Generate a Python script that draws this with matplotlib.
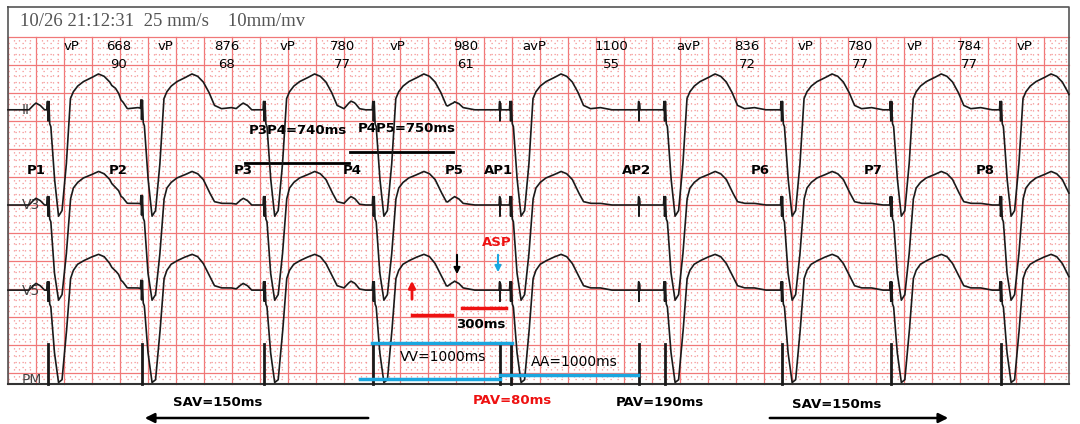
import numpy as np
import matplotlib
matplotlib.use("Agg")
import matplotlib.pyplot as plt

# ---------------- data ----------------
rr_labels = [668, 876, 780, 980, 1100, 836, 780, 784]   # ms, shown at top
hr_labels = [90, 68, 77, 61, 55, 72, 77, 77]
beat_marks = ["vP", "vP", "vP", "vP", "avP", "avP", "vP", "vP", "vP"]
first_v_s = 0.286                                         # first ventricular spike (s)
atrial_spikes_s = [3.514, 4.507]                           # AP1, AP2 (s)
p_wave_s = [0.20, 0.79, 1.68, 2.45, 3.19]                  # sinus P waves (s)
p_labels = ["P1", "P2", "P3", "P4", "P5", "AP1", "AP2", "P6", "P7", "P8"]
p_label_s = [0.20, 0.79, 1.68, 2.46, 3.19, 3.50, 4.49, 5.37, 6.18, 6.98]

# beat templates: time after V spike (s) and amplitude (mm)
tmpl_t = [-0.03, -0.008, -0.004, 0.0, 0.006, 0.012, 0.02, 0.045, 0.075, 0.10, 0.13,
          0.16, 0.18, 0.21, 0.25, 0.30, 0.36, 0.40, 0.44, 0.48, 0.52, 0.57, 0.64, 0.72]
II_v = [0, 0, 1.5, -2, 1.5, -2.5, -3, -12, -19, -18, -10, 2, 3.2, 4.2, 5, 5.6, 6.4,
        6.0, 5.0, 3.2, 0.8, 0.2, 0.4, 0]
V3_v = [0, 0, 1.5, -2, 1.5, -2.5, -3, -12, -17, -16, -9, 1, 3, 4, 4.8, 5.3, 6.0,
        5.6, 4.6, 2.5, 0.6, 0.3, 0.3, 0]
V5_v = [0, 0, 1.5, -2, 1.5, -2.5, -3, -11, -16.5, -16, -8, 2, 3.5, 4.6, 5.2, 5.8, 6.4,
        6.0, 4.8, 2.8, 0.8, 0.4, 0.4, 0]
baselines_mm = {"II": 47.0, "V3": 30.0, "V5": 14.8}
p_t = [-0.05, -0.02, 0.0, 0.03, 0.06]
p_v = [0, 0.8, 1.2, 0.8, 0]
spike_t = [-0.006, -0.002, 0.0, 0.003, 0.007]
spike_v = [0, 1.5, -2.0, 1.2, 0]
pm_spike_mm = 7.2

# ---------------- helpers ----------------
PX_PER_S, PX_PER_MM = 140.0, 5.6
def X(px): return (px - 8) / PX_PER_S
def Y(py): return (373 - py) / PX_PER_MM

fig = plt.figure(figsize=(10.8, 4.24), dpi=100)
ax = fig.add_axes([0, 0, 1, 1])
ax.set_xlim(X(0), X(1080)); ax.set_ylim(Y(424), Y(0)); ax.axis("off")

x0, x1, y0, y1 = X(8), X(1069), Y(384), Y(37)
# grid
for v in np.arange(0, x1, 0.04):
    major = abs(v / 0.2 - round(v / 0.2)) < 1e-6
    if major:
        ax.plot([v, v], [y0, y1], color="#f07878", lw=0.9, zorder=1)
    else:
        ax.plot([v, v], [y0, y1], color="#f49090", lw=0.9, ls=(0, (1, 4.6)), zorder=1)
for h in np.arange(-1, y1, 1.0):
    if h % 5 == 0:
        ax.plot([x0, x1], [h, h], color="#f07878", lw=0.9, zorder=1)
    else:
        ax.plot([x0, x1], [h, h], color="#f49090", lw=0.9, ls=(0, (1, 4.6)), zorder=1)
# frame
ax.plot([x0, x1, x1, x0, x0], [Y(7), Y(7), y0, y0, Y(7)], color="#555555", lw=1.2, zorder=3)
ax.plot([x0, x1], [y0, y0], color="#333333", lw=1.5, zorder=3)
ax.text(X(20), Y(22), "10/26 21:12:31  25 mm/s    10mm/mv", family="Liberation Serif",
        fontsize=13.5, color="#555555", va="center")

# beat times
v_times = np.concatenate([[first_v_s], first_v_s + np.cumsum(rr_labels) / 1000.0])
t = np.arange(0, x1, 0.001)
for lead, tv in (("II", II_v), ("V3", V3_v), ("V5", V5_v)):
    sig = np.full_like(t, baselines_mm[lead])
    for vt in v_times:
        sig += np.interp(t - vt, tmpl_t, tv, left=0, right=0)
    for pt in p_wave_s:
        sig += np.interp(t - pt, p_t, p_v, left=0, right=0)
    for at in atrial_spikes_s:
        sig += np.interp(t - at, spike_t, spike_v, left=0, right=0)
    ax.plot(t, sig, color="#1a1a1a", lw=1.2, zorder=4)
# PM row
for st in list(v_times) + atrial_spikes_s:
    ax.plot([st, st], [y0, y0 + pm_spike_mm], color="#1a1a1a", lw=2, zorder=4)

# top labels
mid = (v_times[:-1] + v_times[1:]) / 2
for vt, m in zip(v_times, beat_marks):
    ax.text(vt + 0.17, Y(47), m, ha="center", va="center", fontsize=9.5)
for m, rr, hr in zip(mid, rr_labels, hr_labels):
    ax.text(m + 0.17, Y(47), str(rr), ha="center", va="center", fontsize=9.5)
    ax.text(m + 0.17, Y(65), str(hr), ha="center", va="center", fontsize=9.5)

for lab, ps in zip(p_labels, p_label_s):
    ax.text(ps, Y(170), lab, ha="center", va="center", fontsize=9.5, fontweight="bold")
for lab, py in (("II", 110), ("V3", 205), ("V5", 291), ("PM", 380)):
    ax.text(X(22), Y(py), lab, ha="left", va="center", fontsize=10, color="#444444")

bold = dict(fontsize=9.5, fontweight="bold", ha="center", va="center")
ax.text(X(298), Y(131), "P3P4=740ms", **bold)
ax.plot([X(245), X(349)], [Y(163), Y(163)], color="black", lw=2)
ax.text(X(407), Y(128), "P4P5=750ms", **bold)
ax.plot([X(350), X(453)], [Y(152), Y(152)], color="black", lw=2)

red, blue = "#ee1111", "#1aa7e0"
ax.annotate("", xy=(X(412), Y(278)), xytext=(X(412), Y(302)),
            arrowprops=dict(arrowstyle="-|>", color=red, lw=2, mutation_scale=10))
ax.plot([X(412), X(452)], [Y(315), Y(315)], color=red, lw=2.5)
ax.plot([X(462), X(506)], [Y(308), Y(308)], color=red, lw=2.5)
ax.text(X(481), Y(325), "300ms", **bold)
ax.annotate("", xy=(X(457), Y(277)), xytext=(X(457), Y(252)),
            arrowprops=dict(arrowstyle="-|>", color="black", lw=1.5, mutation_scale=9))
ax.annotate("", xy=(X(498), Y(275)), xytext=(X(498), Y(252)),
            arrowprops=dict(arrowstyle="-|>", color=blue, lw=1.5, mutation_scale=9))
ax.text(X(497), Y(242), "ASP", color=red, **bold)

ax.plot([X(372), X(512)], [Y(343), Y(343)], color=blue, lw=2.5, zorder=5)
ax.plot([X(360), X(500)], [Y(379), Y(379)], color=blue, lw=2.5, zorder=5)
ax.plot([X(500), X(638)], [Y(375), Y(375)], color=blue, lw=2.5, zorder=5)
ax.text(X(443), Y(357), "VV=1000ms", fontsize=10, ha="center", va="center")
ax.text(X(574), Y(362), "AA=1000ms", fontsize=10, ha="center", va="center")

ax.text(X(218), Y(403), "SAV=150ms", **bold)
ax.annotate("", xy=(X(142), Y(418)), xytext=(X(371), Y(418)),
            arrowprops=dict(arrowstyle="-|>", color="black", lw=1.8, mutation_scale=14))
ax.text(X(512), Y(400), "PAV=80ms", color=red, **bold)
ax.text(X(660), Y(403), "PAV=190ms", **bold)
ax.text(X(837), Y(405), "SAV=150ms", **bold)
ax.annotate("", xy=(X(951), Y(418)), xytext=(X(767), Y(418)),
            arrowprops=dict(arrowstyle="-|>", color="black", lw=1.8, mutation_scale=14))

fig.savefig("out.png", dpi=100, facecolor="white")
